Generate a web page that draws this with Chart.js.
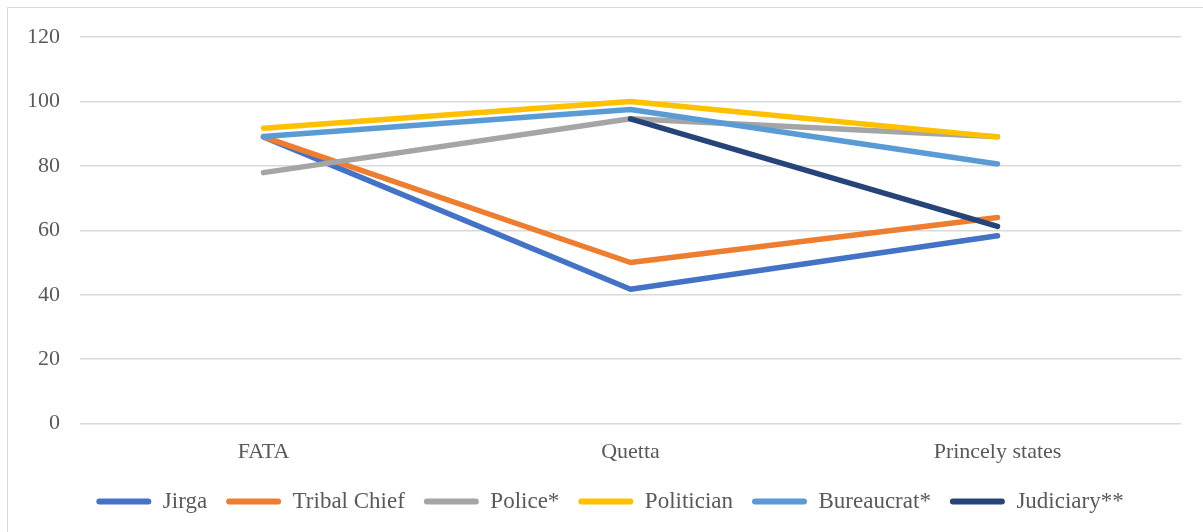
<!DOCTYPE html>
<html>
<head>
<meta charset="utf-8">
<script src="https://cdn.jsdelivr.net/npm/chart.js@4.4.1/dist/chart.umd.min.js"></script>
<style>
  html, body { margin: 0; padding: 0; background: #fff; overflow: hidden; }
  #wrap { position: relative; width: 1203px; height: 532px; }
  #frame {
    position: absolute; left: 7px; top: 7px; right: -20px; bottom: -20px;
    border: 1.5px solid #d9d9d9; pointer-events: none;
  }
  canvas { position: absolute; left: 0; top: 0; }
</style>
</head>
<body>
<div id="wrap">
  <canvas id="myChart" width="1203" height="532"></canvas>
  <div id="frame"></div>
</div>
<script>
// regions on the x axis
const regions = ["FATA", "Quetta", "Princely states"];

// series values (percent)
const jirga = [89, 41.7, 58.3];
const tribalChief = [89, 50, 64];
const police = [77.9, 94.6, 89];
const politician = [91.7, 100, 89];
const bureaucrat = [89.1, 97.5, 80.6];
const judiciary = [null, 94.6, 61.2];

const seriesNames = ["Jirga", "Tribal Chief", "Police*", "Politician", "Bureaucrat*", "Judiciary**"];
const seriesData = [jirga, tribalChief, police, politician, bureaucrat, judiciary];
const seriesColors = ["#4472C4", "#ED7D31", "#A5A5A5", "#FFC000", "#5B9BD5", "#264478"];

const yTicks = [0, 20, 40, 60, 80, 100, 120];

const fontFamily = "'Liberation Serif', 'Times New Roman', serif";
const textColor = "#595959";

const datasets = seriesNames.map((name, i) => ({
  label: name,
  data: seriesData[i],
  borderColor: seriesColors[i],
  backgroundColor: seriesColors[i],
  borderWidth: 5.5,
  borderCapStyle: "round",
  borderJoinStyle: "round",
  pointRadius: 0,
  pointHoverRadius: 0,
  tension: 0,
  spanGaps: false,
  // later series sit on top of earlier ones
  order: seriesNames.length - i,
}));

// nudge the legend box after layout so it sits where we want it
const legendShift = {
  id: "legendShift",
  afterLayout(chart) {
    const lg = chart.legend;
    if (!lg) return;
    const dx = 16, dy = -1;
    lg.left += dx; lg.right += dx;
    lg.top += dy; lg.bottom += dy;
  },
};

const ctx = document.getElementById("myChart");

const myChart = new Chart(ctx, {
  type: "line",
  data: {
    labels: regions,
    datasets: datasets,
  },
  plugins: [legendShift],
  options: {
    responsive: false,
    animation: false,
    layout: {
      padding: { left: 7, right: 22, top: 37, bottom: 8 },
    },
    plugins: {
      tooltip: { enabled: false },
      legend: {
        position: "bottom",
        labels: {
          boxWidth: 55,
          boxHeight: 6,
          padding: 19,
          color: textColor,
          font: { family: fontFamily, size: 23 },
          useBorderRadius: true,
          borderRadius: 3,
          generateLabels: (chart) =>
            chart.data.datasets.map((ds, i) => ({
              text: ds.label,
              fillStyle: ds.borderColor,
              strokeStyle: ds.borderColor,
              lineWidth: 0,
              fontColor: textColor,
              hidden: false,
              datasetIndex: i,
              borderRadius: 3,
            })),
        },
      },
    },
    scales: {
      x: {
        offset: true,
        grid: { display: false },
        border: { display: false },
        ticks: {
          color: textColor,
          padding: 7,
          font: { family: fontFamily, size: 22 },
          maxRotation: 0,
        },
      },
      y: {
        min: 0,
        max: 120,
        afterBuildTicks: (axis) => {
          axis.ticks = yTicks.map((v) => ({ value: v }));
        },
        grid: {
          color: "#d9d9d9",
          lineWidth: 1.5,
          drawTicks: false,
        },
        border: { display: false },
        ticks: {
          color: textColor,
          padding: 20,
          font: { family: fontFamily, size: 22 },
        },
      },
    },
  },
});
</script>
</body>
</html>
